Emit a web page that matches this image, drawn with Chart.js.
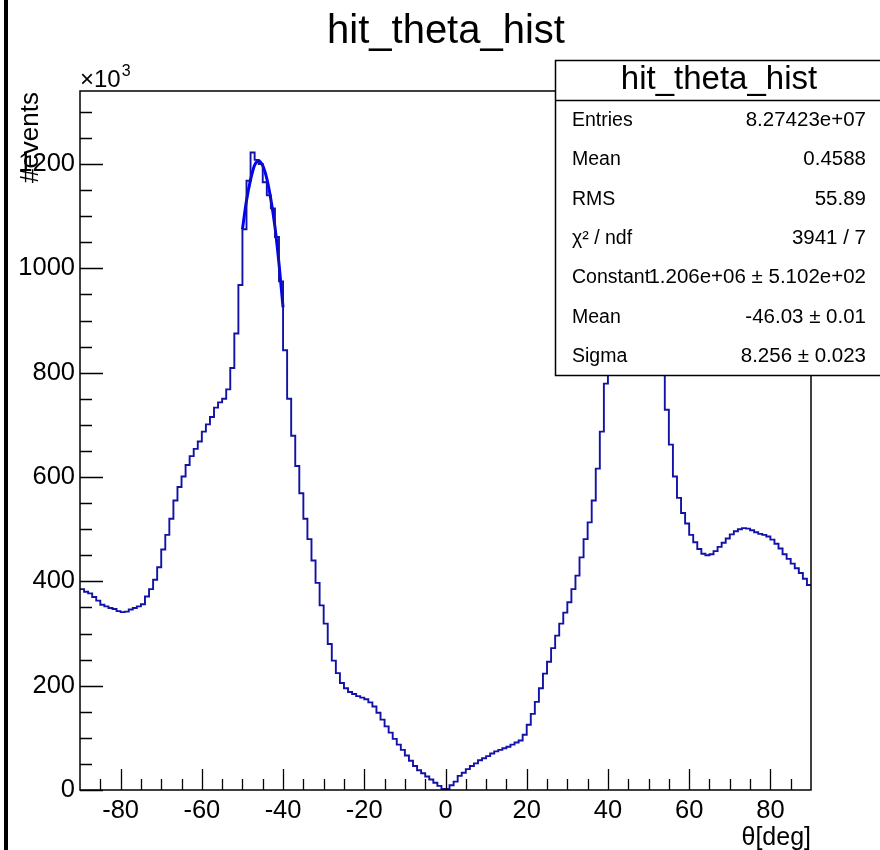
<!DOCTYPE html>
<html>
<head>
<meta charset="utf-8">
<title>hit_theta_hist</title>
<script src="https://cdn.jsdelivr.net/npm/chart.js@4.4.1/dist/chart.umd.min.js"></script>
<style>
  html, body { margin: 0; padding: 0; background: #fff; }
  #wrap { width: 880px; height: 850px; }
</style>
</head>
<body>
<div id="wrap"><canvas id="histo" width="880" height="850"></canvas></div>
<script>
// hit_theta_hist: 180 bins of 1 deg from -90 to 90, contents in units of 10^3
const THETA_MIN = -90;
const THETA_MAX = 90;
const BIN_WIDTH = 1;
const Y_MAX = 1340;

// bin contents, left to right (lower edge -90, -89, ... 89)
const binCounts = [
  385, 380, 377, 370, 363, 355, 352, 349, 347, 343,   // -90 .. -81
  341, 342, 346, 349, 352, 356, 371, 385, 403, 427,   // -80 .. -71
  461, 489, 520, 555, 581, 601, 623, 640, 654, 668,   // -70 .. -61
  687, 701, 715, 733, 743, 750, 768, 809, 875, 968,   // -60 .. -51
  1075, 1168, 1222, 1208, 1200, 1165, 1140, 1115, 1060, 975, // -50 .. -41
  843, 750, 679, 621, 569, 520, 481, 440, 397, 354,   // -40 .. -31
  319, 280, 248, 224, 205, 195, 188, 184, 180, 177,   // -30 .. -21
  174, 168, 160, 148, 135, 122, 110, 98, 87, 77,      // -20 .. -11
  66, 56, 46, 38, 32, 26, 20, 14, 8, 2,               // -10 .. -1
  2, 9, 16, 27, 33, 40, 46, 51, 57, 61,               // 0 .. 9
  65, 70, 74, 77, 80, 83, 87, 91, 95, 106,            // 10 .. 19
  125, 146, 169, 195, 223, 246, 272, 296, 319, 340,   // 20 .. 29
  360, 385, 411, 446, 481, 513, 555, 616, 687, 779,   // 30 .. 39
  870, 950, 1010, 1050, 1075, 1090, 1095, 1090, 1070, 1035, // 40 .. 49
  990, 935, 875, 820, 729, 662, 601, 560, 531, 511,   // 50 .. 59
  489, 475, 462, 453, 450, 452, 458, 466, 474, 482,   // 60 .. 69
  490, 496, 500, 502, 501, 498, 494, 491, 489, 486,   // 70 .. 79
  480, 472, 463, 452, 443, 434, 425, 416, 405, 393    // 80 .. 89
];

// gaussian fit curve as it is drawn over the left peak
const fitTheta = [-50, -49, -48, -47, -46, -45, -44, -43, -42, -41, -40];
const fitCounts = [1075, 1130, 1170, 1198, 1206, 1197, 1172, 1132, 1080, 1009, 925];

const xTickValues = [-80, -60, -40, -20, 0, 20, 40, 60, 80];
const yTickValues = [0, 200, 400, 600, 800, 1000, 1200];

const statsTitle = "hit_theta_hist";
const statsLabels = ["Entries", "Mean", "RMS", "\u03c7\u00b2 / ndf", "Constant", "Mean", "Sigma"];
const statsValues = ["8.27423e+07", "0.4588", "55.89", "3941 / 7",
  "1.206e+06 \u00b1 5.102e+02", "-46.03 \u00b1 0.01", "8.256 \u00b1 0.023"];

const FONT = '"Liberation Sans", Arial, Helvetica, sans-serif';

// histogram as stepped line: one point per lower edge + closing point at the upper edge
const histPoints = binCounts.map((v, i) => ({ x: THETA_MIN + i * BIN_WIDTH, y: v }));
histPoints.push({ x: THETA_MAX, y: binCounts[binCounts.length - 1] });

const fitPoints = fitTheta.map((t, i) => ({ x: t, y: fitCounts[i] }));

// ROOT-like frame, inward ticks, texts and stats box
const rootDecor = {
  id: 'rootDecor',
  beforeDraw(chart) {
    const ctx = chart.ctx;
    ctx.save();
    ctx.fillStyle = '#fff';
    ctx.fillRect(0, 0, chart.width, chart.height);
    ctx.fillStyle = '#000';
    ctx.fillRect(4, 0, 4, chart.height);
    ctx.restore();
  },
  afterDraw(chart) {
    const ctx = chart.ctx;
    const a = chart.chartArea;
    const xs = chart.scales.x;
    const ys = chart.scales.y;
    ctx.save();
    ctx.strokeStyle = '#000';
    ctx.lineWidth = 1.5;
    ctx.strokeRect(a.left, a.top, a.right - a.left, a.bottom - a.top);

    // x ticks (major 20, minor 5)
    ctx.lineWidth = 1.3;
    ctx.beginPath();
    for (let v = THETA_MIN + 5; v < THETA_MAX; v += 5) {
      const px = Math.round(xs.getPixelForValue(v)) + 0.5;
      const len = xTickValues.includes(v) ? 21 : 11;
      ctx.moveTo(px, a.bottom);
      ctx.lineTo(px, a.bottom - len);
    }
    // y ticks (major 200, minor 50)
    for (let v = 0; v < Y_MAX; v += 50) {
      const py = Math.round(ys.getPixelForValue(v)) + 0.5;
      const len = yTickValues.includes(v) ? 23 : 12;
      ctx.moveTo(a.left, py);
      ctx.lineTo(a.left + len, py);
    }
    ctx.stroke();

    ctx.fillStyle = '#000';
    // title
    ctx.font = '40px ' + FONT;
    ctx.textAlign = 'center';
    ctx.textBaseline = 'alphabetic';
    ctx.fillText('hit_theta_hist', 446, 43);

    // x10^3
    ctx.textAlign = 'left';
    ctx.font = '24px ' + FONT;
    ctx.fillText('\u00d710', 80, 87);
    const w = ctx.measureText('\u00d710').width;
    ctx.font = '16px ' + FONT;
    ctx.fillText('3', 80 + w + 1, 76);

    // axis titles
    ctx.font = '25px ' + FONT;
    ctx.textAlign = 'right';
    ctx.fillText('\u03b8[deg]', a.right, 845);
    ctx.save();
    ctx.translate(38, a.top + 1);
    ctx.rotate(-Math.PI / 2);
    ctx.font = '26px ' + FONT;
    ctx.fillText('#events', 0, 0);
    ctx.restore();

    // stats box
    const bx = 555.5, by = 60.5, bw = 340, bh = 315;
    ctx.fillStyle = '#fff';
    ctx.fillRect(bx, by, bw, bh);
    ctx.strokeStyle = '#000';
    ctx.lineWidth = 1.5;
    ctx.strokeRect(bx, by, bw, bh);
    ctx.beginPath();
    ctx.moveTo(bx, 100.5);
    ctx.lineTo(bx + bw, 100.5);
    ctx.stroke();
    ctx.fillStyle = '#000';
    ctx.font = '33px ' + FONT;
    ctx.textAlign = 'center';
    ctx.fillText(statsTitle, 719, 89);
    statsLabels.forEach((lab, i) => {
      const yb = 126 + i * 39.3;
      ctx.font = '19.5px ' + FONT;
      ctx.textAlign = 'left';
      ctx.fillText(lab, 572, yb);
      ctx.font = '20.5px ' + FONT;
      ctx.textAlign = 'right';
      ctx.fillText(statsValues[i], 866, yb);
    });
    ctx.restore();
  }
};

Chart.defaults.font.family = FONT;
Chart.defaults.color = '#000';

new Chart(document.getElementById('histo'), {
  type: 'line',
  data: {
    datasets: [
      {
        label: 'hit_theta_hist',
        data: histPoints,
        stepped: true,
        borderColor: '#1212a6',
        borderWidth: 1.9,
        pointRadius: 0,
        fill: false
      },
      {
        label: 'gaus fit',
        data: fitPoints,
        borderColor: '#0000ff',
        borderWidth: 3,
        pointRadius: 0,
        cubicInterpolationMode: 'monotone',
        fill: false
      }
    ]
  },
  options: {
    responsive: false,
    animation: false,
    events: [],
    layout: { padding: { top: 91, right: 69, bottom: 0, left: 0 } },
    plugins: {
      legend: { display: false },
      title: { display: false },
      tooltip: { enabled: false }
    },
    scales: {
      x: {
        type: 'linear',
        min: THETA_MIN,
        max: THETA_MAX,
        grid: { display: false, drawTicks: false },
        border: { display: false },
        afterBuildTicks: s => { s.ticks = xTickValues.map(v => ({ value: v })); },
        afterFit: s => { s.height = 60; },
        ticks: {
          autoSkip: false,
          maxRotation: 0,
          padding: 6,
          color: '#000',
          font: { size: 25.5 },
          callback: v => String(v)
        }
      },
      y: {
        type: 'linear',
        min: 0,
        max: Y_MAX,
        grid: { display: false, drawTicks: false },
        border: { display: false },
        afterBuildTicks: s => { s.ticks = yTickValues.map(v => ({ value: v })); },
        afterFit: s => { s.width = 80; },
        ticks: {
          autoSkip: false,
          padding: 5,
          color: '#000',
          font: { size: 25.5 },
          callback: v => String(v)
        }
      }
    }
  },
  plugins: [rootDecor]
});
</script>
</body>
</html>
